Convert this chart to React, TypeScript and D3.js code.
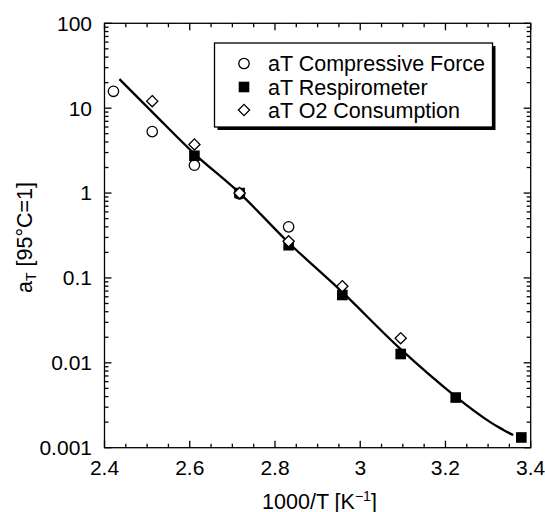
import React from "react";
import * as d3 from "d3";

const xTicks = [2.4, 2.6, 2.8, 3.0, 3.2, 3.4];
const xTickLabels = ["2.4", "2.6", "2.8", "3", "3.2", "3.4"];
const yTicks = [100, 10, 1, 0.1, 0.01, 0.001];
const yTickLabels = ["100", "10", "1", "0.1", "0.01", "0.001"];

const compX = [2.421, 2.512, 2.611, 2.717, 2.832];
const compY = [15.8, 5.3, 2.13, 0.98, 0.4];

const respX = [2.611, 2.717, 2.832, 2.958, 3.095, 3.224, 3.378];
const respY = [2.75, 1.0, 0.243, 0.063, 0.0127, 0.0039, 0.00132];

const o2X = [2.512, 2.611, 2.717, 2.832, 2.958, 3.095];
const o2Y = [12.1, 3.74, 1.0, 0.27, 0.08, 0.0195];

const fitX = [2.435, 2.514, 2.611, 2.717, 2.832, 2.958, 3.093, 3.224, 3.305, 3.336, 3.359];
const fitY = [22, 8.8, 2.9, 1.0, 0.26, 0.068, 0.0148, 0.004, 0.002, 0.00162, 0.00141];

const legendLabels = ["aT Compressive Force", "aT Respirometer", "aT O2 Consumption"];

const W = 545;
const H = 512;
const L = 104.5, R = 530.7, T = 23.3, B = 447.7;
const FONT = "Arial, 'Liberation Sans', Helvetica, sans-serif";

export default function App() {
  const x = d3.scaleLinear().domain([2.4, 3.4]).range([L, R]);
  const y = d3.scaleLog().domain([0.001, 100]).range([B, T]);

  const xMinor = d3.range(0, 21).map((i) => 2.4 + i * 0.05).filter((v) => !xTicks.some((t) => Math.abs(t - v) < 1e-6));
  const yMinor: number[] = [];
  for (let e = -3; e < 2; e++) {
    for (let k = 2; k <= 9; k++) yMinor.push(k * Math.pow(10, e));
  }

  const line = d3
    .line<number>()
    .x((_, i) => x(fitX[i]))
    .y((_, i) => y(fitY[i]))
    .curve(d3.curveCatmullRom.alpha(0.5));

  const majorLen = 7;
  const minorLen = 4;

  const circle = (cx: number, cy: number, key: string) => (
    <circle key={key} cx={cx} cy={cy} r={5.2} fill="white" stroke="black" strokeWidth={1.3} />
  );
  const square = (cx: number, cy: number, key: string) => (
    <rect key={key} x={cx - 5.3} y={cy - 5.3} width={10.6} height={10.6} fill="black" />
  );
  const diamond = (cx: number, cy: number, key: string) => (
    <path
      key={key}
      d={`M${cx},${cy - 5.6}L${cx + 5.6},${cy}L${cx},${cy + 5.6}L${cx - 5.6},${cy}Z`}
      fill="white"
      stroke="black"
      strokeWidth={1.3}
    />
  );

  const legX = 214.5, legY = 43, legW = 278, legH = 84;
  const rowsY = [63.5, 87, 110];
  const symX = 244;
  const textX = 268;

  return (
    <svg
      width={W}
      height={H}
      style={{ position: "absolute", left: 0, top: 0, background: "white" }}
      fontFamily={FONT}
    >
      <rect x={0} y={0} width={W} height={H} fill="white" />
      <rect x={L} y={T} width={R - L} height={B - T} fill="none" stroke="black" strokeWidth={1.3} />

      {xTicks.map((t, i) => (
        <g key={"xt" + i}>
          <line x1={x(t)} x2={x(t)} y1={B} y2={B - majorLen} stroke="black" strokeWidth={1.3} />
          <line x1={x(t)} x2={x(t)} y1={T} y2={T + majorLen} stroke="black" strokeWidth={1.3} />
          <text x={x(t)} y={474.5} textAnchor="middle" fontSize={21}>
            {xTickLabels[i]}
          </text>
        </g>
      ))}
      {xMinor.map((t, i) => (
        <g key={"xm" + i}>
          <line x1={x(t)} x2={x(t)} y1={B} y2={B - minorLen} stroke="black" strokeWidth={1.3} />
          <line x1={x(t)} x2={x(t)} y1={T} y2={T + minorLen} stroke="black" strokeWidth={1.3} />
        </g>
      ))}

      {yTicks.map((t, i) => (
        <g key={"yt" + i}>
          <line x1={L} x2={L + majorLen} y1={y(t)} y2={y(t)} stroke="black" strokeWidth={1.3} />
          <line x1={R} x2={R - majorLen} y1={y(t)} y2={y(t)} stroke="black" strokeWidth={1.3} />
          <text x={92} y={y(t)} dy="0.35em" textAnchor="end" fontSize={21}>
            {yTickLabels[i]}
          </text>
        </g>
      ))}
      {yMinor.map((t, i) => (
        <g key={"ym" + i}>
          <line x1={L} x2={L + minorLen} y1={y(t)} y2={y(t)} stroke="black" strokeWidth={1.3} />
          <line x1={R} x2={R - minorLen} y1={y(t)} y2={y(t)} stroke="black" strokeWidth={1.3} />
        </g>
      ))}

      <text x={319.5} y={508.5} textAnchor="middle" fontSize={21.5}>
        1000/T [K
        <tspan fontSize={14} dy={-8}>
          −1
        </tspan>
        <tspan dy={8}>]</tspan>
      </text>
      <text
        transform={`translate(31.5,${(T + B) / 2 + 2}) rotate(-90)`}
        textAnchor="middle"
        fontSize={21.5}
      >
        a
        <tspan fontSize={14} dy={4}>
          T
        </tspan>
        <tspan dy={-4}> [95°C=1]</tspan>
      </text>

      <path d={line(fitX) || ""} fill="none" stroke="black" strokeWidth={2.3} />

      {compX.map((v, i) => circle(x(v), y(compY[i]), "c" + i))}
      {respX.map((v, i) => square(x(v), y(respY[i]), "s" + i))}
      {o2X.map((v, i) => diamond(x(v), y(o2Y[i]), "d" + i))}

      <rect x={legX + 3} y={legY + 3} width={legW} height={legH} fill="black" />
      <rect x={legX} y={legY} width={legW} height={legH} fill="white" stroke="black" strokeWidth={1.3} />
      {circle(symX, rowsY[0], "lc")}
      {square(symX, rowsY[1], "ls")}
      {diamond(symX, rowsY[2], "ld")}
      {legendLabels.map((lab, i) => (
        <text key={"lt" + i} x={textX} y={rowsY[i]} dy="0.35em" fontSize={21.5}>
          {lab}
        </text>
      ))}
    </svg>
  );
}
